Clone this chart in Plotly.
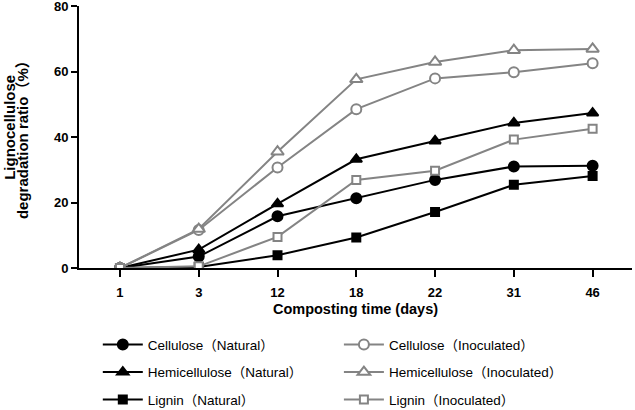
import plotly.graph_objects as go

days = ["1", "3", "12", "18", "22", "31", "46"]
cellulose_nat = [0, 3.5, 15.8, 21.3, 26.9, 31.0, 31.2]
hemi_nat = [0, 5.6, 19.6, 33.2, 38.8, 44.3, 47.3]
lignin_nat = [0, 0.3, 3.9, 9.3, 17.1, 25.4, 28.1]
cellulose_inoc = [0, 11.6, 30.7, 48.5, 57.9, 59.8, 62.5]
hemi_inoc = [0, 11.9, 35.5, 57.6, 62.9, 66.5, 66.9]
lignin_inoc = [0, 0.5, 9.5, 26.9, 29.7, 39.2, 42.5]

BLACK = "#000000"
GREY = "#848484"
FONT = "Liberation Sans, Arial, Noto Sans CJK SC, sans-serif"

series = [
    ("Cellulose（Natural）", cellulose_nat, BLACK, "circle", 10, BLACK, "legend"),
    ("Hemicellulose（Natural）", hemi_nat, BLACK, "triangle-up", 10, BLACK, "legend"),
    ("Lignin（Natural）", lignin_nat, BLACK, "square", 8, BLACK, "legend"),
    ("Cellulose（Inoculated）", cellulose_inoc, GREY, "circle", 10, "white", "legend2"),
    ("Hemicellulose（Inoculated）", hemi_inoc, GREY, "triangle-up", 11, "white", "legend2"),
    ("Lignin（Inoculated）", lignin_inoc, GREY, "square", 8, "white", "legend2"),
]

fig = go.Figure()
for name, vals, col, sym, size, fill, leg in series:
    fig.add_trace(go.Scatter(
        x=days, y=vals, name=name, mode="lines+markers",
        line=dict(color=col, width=2),
        marker=dict(symbol=sym, size=size, color=fill,
                    line=dict(color=col, width=2)),
        legend=leg, legendgroup=name,
    ))

legend_common = dict(
    font=dict(family=FONT, size=13.5, color="#000000"),
    bgcolor="rgba(0,0,0,0)", tracegroupgap=7, itemwidth=40,
    orientation="v", xanchor="left", yanchor="top",
    xref="paper", yref="container", y=0.197,
)

fig.update_layout(
    width=635, height=410,
    margin=dict(l=79, r=3, t=6, b=142, autoexpand=False),
    plot_bgcolor="white", paper_bgcolor="white",
    font=dict(family=FONT, size=12, color="#000000"),
    showlegend=True,
    legend=dict(x=0.034, **legend_common),
    legend2=dict(x=0.47, **legend_common),
    xaxis=dict(
        type="category", range=[-0.52, 6.5],
        showline=True, linecolor="black", linewidth=2,
        ticks="outside", ticklen=7, tickwidth=2, tickcolor="black",
        ticklabelstandoff=4,
        tickfont=dict(family=FONT, size=13, color="black", weight="bold"),
        showgrid=False, zeroline=False,
        title=dict(text="<b>Composting time (days)</b>",
                   font=dict(family=FONT, size=14.5, color="black"), standoff=5),
    ),
    yaxis=dict(
        range=[0, 80], tickvals=[0, 20, 40, 60, 80],
        showline=True, linecolor="black", linewidth=2,
        ticks="outside", ticklen=6, tickwidth=2, tickcolor="black",
        ticklabeloverflow="allow",
        tickfont=dict(family=FONT, size=13, color="black", weight="bold"),
        showgrid=False, zeroline=False,
    ),
    annotations=[
        dict(text="<b>Lignocellulose</b>", textangle=-90, showarrow=False,
             xref="paper", yref="paper", x=-0.127, y=0.538,
             xanchor="center", yanchor="middle",
             font=dict(family=FONT, size=15, color="black")),
        dict(text="<b>degradation ratio（%）</b>", textangle=-90, showarrow=False,
             xref="paper", yref="paper", x=-0.101, y=0.504,
             xanchor="center", yanchor="middle",
             font=dict(family=FONT, size=15, color="black")),
    ],
)

fig.write_html("out.html", config={"displayModeBar": False},
               post_script="document.body.style.margin='0';")
